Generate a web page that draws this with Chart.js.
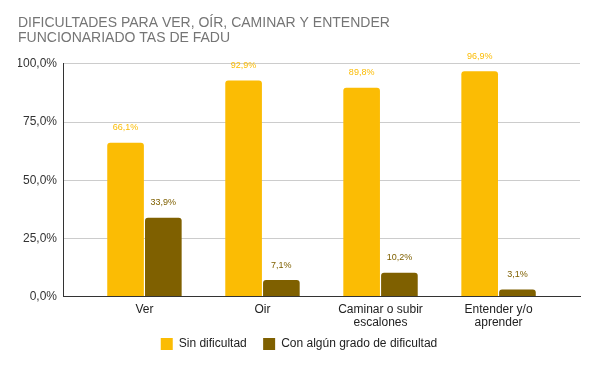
<!DOCTYPE html>
<html>
<head>
<meta charset="utf-8">
<script src="https://cdn.jsdelivr.net/npm/chart.js@4"></script>
<style>
  html, body { margin: 0; padding: 0; background: #fff; }
  #wrap { width: 595px; height: 366px; }
</style>
</head>
<body>
<div id="wrap"><canvas id="chart"></canvas></div>
<script>
// data
const categories = ["Ver", "Oir", ["Caminar o subir", "escalones"], ["Entender y/o", "aprender"]];
const seriesNames = ["Sin dificultad", "Con algún grado de dificultad"];
const sinDificultad = [66.1, 92.9, 89.8, 96.9];
const conDificultad = [33.9, 7.1, 10.2, 3.1];
const yTicks = [0, 25, 50, 75, 100];

const fmt = v => v.toFixed(1).replace(".", ",") + "%";
// category index as x so the groups can keep the wide side margins
const toPoints = arr => arr.map((v, i) => ({ x: i, y: v }));

// value labels above bars
const barLabels = {
  id: "barLabels",
  afterDatasetsDraw(chart) {
    const ctx = chart.ctx;
    ctx.save();
    ctx.font = "9px 'Liberation Sans', Arial, sans-serif";
    ctx.textAlign = "center";
    ctx.textBaseline = "middle";
    chart.data.datasets.forEach((ds, i) => {
      const meta = chart.getDatasetMeta(i);
      ctx.fillStyle = ds.backgroundColor;
      meta.data.forEach((bar, j) => {
        ctx.fillText(fmt(ds.data[j].y), bar.x, bar.y - 15);
      });
    });
    ctx.restore();
  }
};

new Chart(document.getElementById("chart"), {
  type: "bar",
  data: {
    datasets: [
      {
        label: seriesNames[0],
        data: toPoints(sinDificultad),
        backgroundColor: "#fbbc04",
        borderRadius: { topLeft: 3, topRight: 3 },
        borderSkipped: "bottom",
        barPercentage: 0.97,
        categoryPercentage: 0.64
      },
      {
        label: seriesNames[1],
        data: toPoints(conDificultad),
        backgroundColor: "#7f6000",
        borderRadius: { topLeft: 3, topRight: 3 },
        borderSkipped: "bottom",
        barPercentage: 0.97,
        categoryPercentage: 0.64
      }
    ]
  },
  options: {
    responsive: true,
    maintainAspectRatio: false,
    animation: false,
    layout: { padding: { left: 18, right: 15, top: 0, bottom: 6 } },
    plugins: {
      title: {
        display: true,
        text: ["DIFICULTADES PARA VER, OÍR, CAMINAR Y ENTENDER", "FUNCIONARIADO TAS DE FADU"],
        align: "start",
        color: "#757575",
        font: { family: "'Liberation Sans', Arial, sans-serif", size: 14, weight: "normal", lineHeight: 1.07 },
        padding: { top: 16, bottom: 18 }
      },
      legend: {
        position: "bottom",
        labels: {
          color: "#222",
          font: { family: "'Liberation Sans', Arial, sans-serif", size: 12 },
          boxWidth: 12,
          boxHeight: 12,
          padding: 3,
          // wider gap between the two entries without extra vertical padding
          generateLabels: chart => {
            const items = Chart.defaults.plugins.legend.labels.generateLabels(chart);
            items[0].text = items[0].text + "    ";
            return items;
          }
        }
      },
      tooltip: { enabled: false }
    },
    scales: {
      y: {
        min: 0,
        max: 100,
        afterBuildTicks: axis => { axis.ticks = yTicks.map(v => ({ value: v })); },
        afterFit: axis => { axis.width = 45; },
        ticks: {
          color: "#333",
          font: { family: "'Liberation Sans', Arial, sans-serif", size: 12 },
          callback: v => fmt(v),
          padding: 6
        },
        grid: { color: "#cccccc", drawTicks: false },
        border: { display: true, color: "#333" }
      },
      x: {
        type: "linear",
        min: -0.69,
        max: categories.length - 1 + 0.69,
        offset: false,
        afterBuildTicks: axis => { axis.ticks = categories.map((c, i) => ({ value: i })); },
        ticks: {
          color: "#222",
          font: { family: "'Liberation Sans', Arial, sans-serif", size: 12, lineHeight: 1.1 },
          maxRotation: 0,
          autoSkip: false,
          padding: 6,
          callback: v => categories[v]
        },
        grid: { display: false, drawTicks: false },
        border: { display: true, color: "#333" }
      }
    }
  },
  plugins: [barLabels]
});
</script>
</body>
</html>
